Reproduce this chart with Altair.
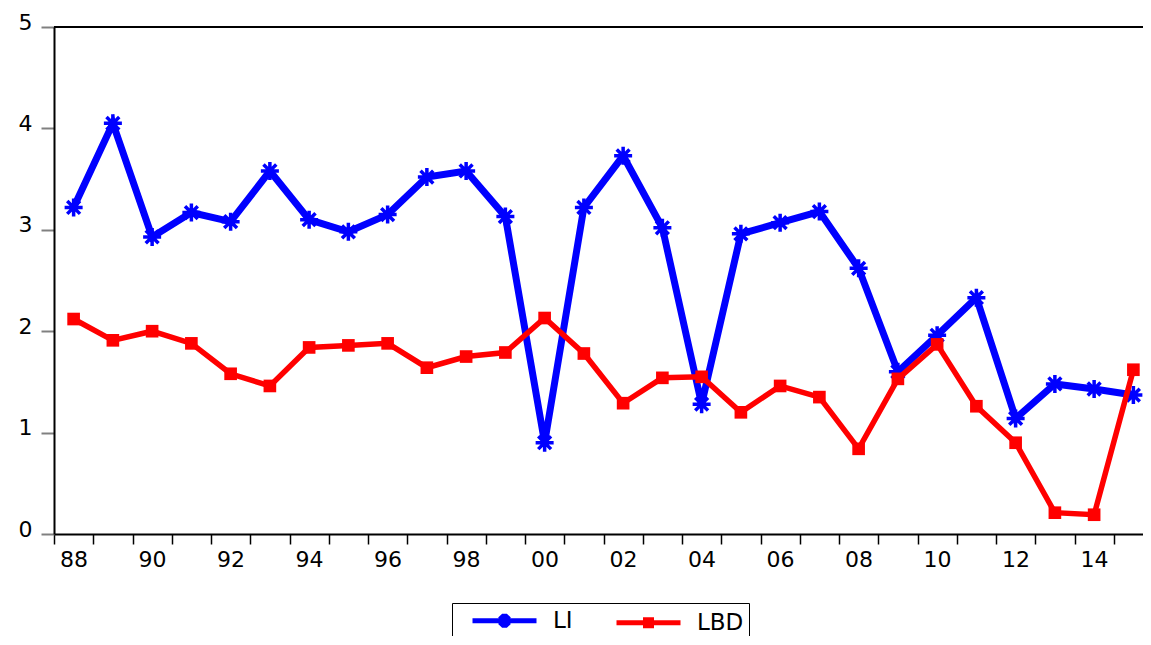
import altair as alt
import pandas as pd

# ---- data ----
years = list(range(1988, 2016))
li = [3.22, 4.05, 2.93, 3.17, 3.08, 3.58, 3.10, 2.98, 3.15, 3.52, 3.58, 3.13, 0.90, 3.22,
      3.73, 3.02, 1.28, 2.96, 3.07, 3.18, 2.62, 1.60, 1.96, 2.33, 1.14, 1.48, 1.43, 1.37]
lbd = [2.12, 1.91, 2.00, 1.88, 1.58, 1.46, 1.84, 1.86, 1.88, 1.64, 1.75, 1.79, 2.13, 1.78,
       1.29, 1.54, 1.55, 1.20, 1.46, 1.35, 0.84, 1.53, 1.87, 1.26, 0.90, 0.21, 0.19, 1.62]
series_names = ["LI", "LBD"]
series_colors = ["#0000FF", "#FF0000"]
y_ticks = [0, 1, 2, 3, 4, 5]
y_top = [5]
x_tick_bounds = [y - 0.5 for y in years]

rows = []
for yr, a, b in zip(years, li, lbd):
    rows.append({"year": yr, "value": a, "series": "LI"})
    rows.append({"year": yr, "value": b, "series": "LBD"})
df = pd.DataFrame(rows)

FONT = "DejaVu Sans"
ASTER = "M-1,0H1M0,-1V1M-0.71,-0.71L0.71,0.71M-0.71,0.71L0.71,-0.71"
# legend symbols: size 400 -> 1 unit = 10 px; line from -1 to 5.4 (64 px), marker at 2.2
LEG_LI = "M-1,0H5.4M1.6,0H2.8M2.2,-0.7V0.7M1.75,-0.5L2.65,0.5M1.75,0.5L2.65,-0.5"
LEG_LBD = "M-1,0H5.4M1.9,-0.3H2.5V0.3H1.9ZM1.9,0H2.5"

x_enc = alt.X(
    "year:Q",
    scale=alt.Scale(domain=[1987.5, 2015.245], nice=False, zero=False),
    axis=alt.Axis(
        values=x_tick_bounds,
        labelExpr="((datum.value + 0.5) % 2 == 0) ? substring(toString(100 + (datum.value + 0.5) % 100), 1) : ''",
        labelOffset=19.6,
        labelOverlap=False,
        labelFlush=False,
        labelBound=False,
        labelFont=FONT,
        labelFontSize=22,
        labelColor="black",
        labelPadding=5,
        tickColor="black",
        tickWidth=1.5,
        tickSize=10,
        domainColor="black",
        domainWidth=2,
        grid=False,
        title=None,
    ),
)
y_enc = alt.Y(
    "value:Q",
    scale=alt.Scale(domain=[0, 5], nice=False, zero=False),
    axis=alt.Axis(
        values=y_ticks,
        format="d",
        labelFont=FONT,
        labelFontSize=22,
        labelColor="black",
        labelOffset=-5,
        labelPadding=9,
        tickColor="#808080",
        tickWidth=2,
        tickSize=13,
        domainColor="black",
        domainWidth=2,
        grid=False,
        title=None,
    ),
)

base = alt.Chart(df)

li_line = base.transform_filter(alt.datum.series == "LI").mark_line(
    color=series_colors[0], strokeWidth=7).encode(x=x_enc, y=y_enc)
li_pts = base.transform_filter(alt.datum.series == "LI").mark_point(
    shape=ASTER, filled=False, color=series_colors[0], strokeWidth=3.5, size=324, opacity=1
).encode(x=x_enc, y=y_enc)
lbd_line = base.transform_filter(alt.datum.series == "LBD").mark_line(
    color=series_colors[1], strokeWidth=5.5).encode(x=x_enc, y=y_enc)
lbd_pts = base.transform_filter(alt.datum.series == "LBD").mark_square(
    color=series_colors[1], size=160, opacity=1).encode(x=x_enc, y=y_enc)

top_rule = alt.Chart(pd.DataFrame({"v": y_top})).mark_rule(
    color="black", strokeWidth=2).encode(y=alt.Y("v:Q"))

leg_props = dict(
    orient="none",
    legendX=398,
    legendY=576,
    direction="horizontal",
    title=None,
    strokeColor="black",
    fillColor="white",
    padding=5,
    symbolOffset=13,
    symbolSize=400,
    symbolStrokeWidth=5,
    labelFont=FONT,
    labelFontSize=23,
    labelColor="black",
    labelOffset=58,
    columnPadding=28,
    labelExpr="datum.label == 'LBD' ? datum.label + '\u00a0\u00a0\u00a0\u00a0' : datum.label",
)

legend_layer = base.transform_filter(alt.datum.series == "__none__").mark_point(
    filled=False, opacity=1
).encode(
    x=x_enc,
    y=y_enc,
    color=alt.Color("series:N", scale=alt.Scale(domain=series_names, range=series_colors),
                    legend=alt.Legend(**leg_props)),
    shape=alt.Shape("series:N", scale=alt.Scale(domain=series_names, range=[LEG_LI, LEG_LBD]),
                    legend=alt.Legend(**leg_props)),
)

chart = alt.layer(li_line, li_pts, lbd_line, lbd_pts, top_rule, legend_layer).properties(
    width=1089,
    height=507,
    autosize=alt.AutoSizeParams(type="none"),
    padding={"left": 46, "top": 19, "right": 0, "bottom": 102},
    background="white",
).configure_view(stroke=None)

chart.save("out.html", embed_options={"renderer": "svg", "actions": False})
